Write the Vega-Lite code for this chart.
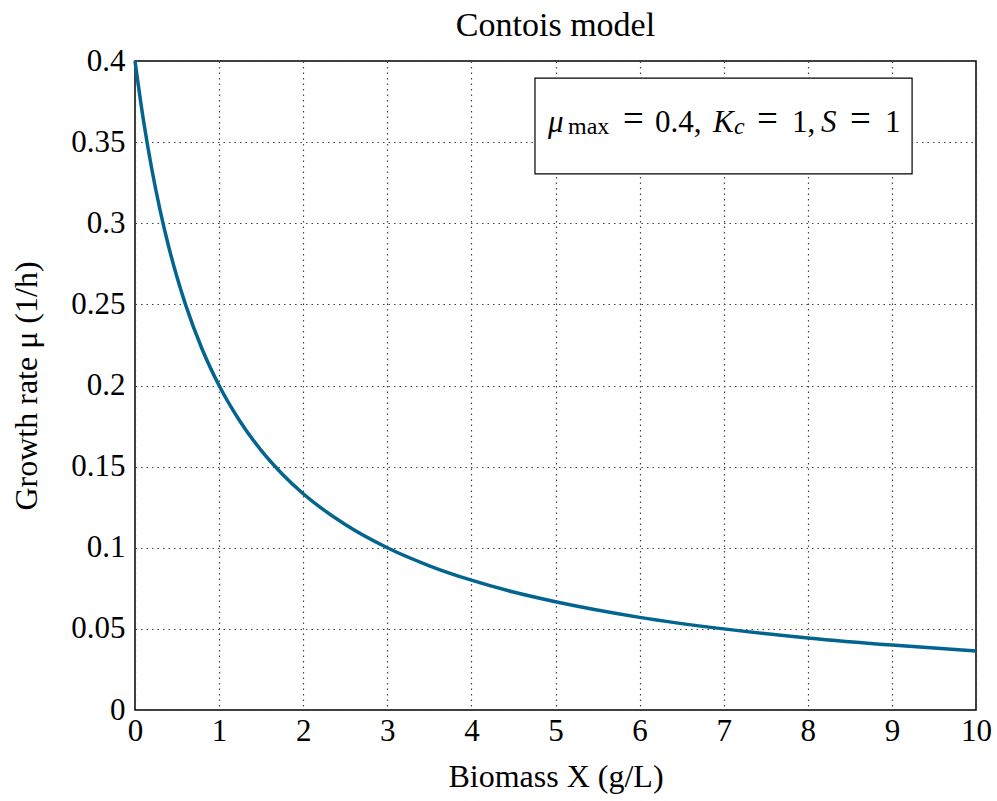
{
  "$schema": "https://vega.github.io/schema/vega-lite/v6.json",
  "autosize": {"type": "none"},
  "width": 841,
  "height": 649,
  "padding": {"left": 135, "top": 61, "right": 21, "bottom": 91},
  "background": "white",
  "title": {"text": "Contois model", "font": "Liberation Serif", "fontSize": 34, "fontWeight": "normal", "color": "black", "offset": 2},
  "config": {
    "view": {"stroke": "black", "strokeWidth": 1.5},
    "axis": {
      "labelFont": "Liberation Serif", "labelFontSize": 31, "labelColor": "black",
      "titleFont": "Liberation Serif", "titleFontSize": 32, "titleFontWeight": "normal", "titleColor": "black",
      "domain": false, "ticks": false, "labelFlush": false, "labelOverlap": false,
      "gridColor": "#444", "gridDash": [1.5, 4], "gridWidth": 1.2
    }
  },
  "layer": [
    {
      "data": {"values": [
        {"X": 0, "mu": 0.4}, {"X": 0.1, "mu": 0.3636}, {"X": 0.2, "mu": 0.3333}, {"X": 0.3, "mu": 0.3077},
        {"X": 0.4, "mu": 0.2857}, {"X": 0.5, "mu": 0.2667}, {"X": 0.6, "mu": 0.25}, {"X": 0.8, "mu": 0.2222},
        {"X": 1, "mu": 0.2}, {"X": 1.25, "mu": 0.1778}, {"X": 1.5, "mu": 0.16}, {"X": 1.75, "mu": 0.1455},
        {"X": 2, "mu": 0.1333}, {"X": 2.5, "mu": 0.1143}, {"X": 3, "mu": 0.1}, {"X": 3.5, "mu": 0.0889},
        {"X": 4, "mu": 0.08}, {"X": 4.5, "mu": 0.0727}, {"X": 5, "mu": 0.0667}, {"X": 6, "mu": 0.0571},
        {"X": 7, "mu": 0.05}, {"X": 8, "mu": 0.0444}, {"X": 9, "mu": 0.04}, {"X": 10, "mu": 0.0364}
      ]},
      "mark": {"type": "line", "color": "#03658f", "strokeWidth": 3.5, "interpolate": "monotone"},
      "encoding": {
        "x": {"field": "X", "type": "quantitative", "scale": {"domain": [0, 10], "nice": false},
          "axis": {"values": [0,1,2,3,4,5,6,7,8,9,10], "format": "~g", "title": "Biomass X (g/L)", "labelPadding": 6, "titlePadding": 15}},
        "y": {"field": "mu", "type": "quantitative", "scale": {"domain": [0, 0.4], "nice": false},
          "axis": {"values": [0,0.05,0.1,0.15,0.2,0.25,0.3,0.35,0.4], "format": "~g", "title": "Growth rate μ (1/h)", "labelPadding": 10, "titlePadding": 27}}
      }
    },
    {
      "data": {"values": [{"x1": 4.756, "x2": 9.24, "y1": 0.3304, "y2": 0.3895}]},
      "mark": {"type": "rect", "fill": "white", "stroke": "black", "strokeWidth": 1.2},
      "encoding": {
        "x": {"field": "x1", "type": "quantitative"}, "x2": {"field": "x2"},
        "y": {"field": "y1", "type": "quantitative"}, "y2": {"field": "y2"}
      }
    },
    {
      "data": {"values": [
        {"x": 6.183, "y": 0.35624, "t": "0.4,"},
        {"x": 7.812, "y": 0.35624, "t": "1,"},
        {"x": 8.918, "y": 0.35624, "t": "1"}
      ]},
      "mark": {"type": "text", "font": "Liberation Serif", "fontSize": 31, "align": "left", "baseline": "alphabetic", "color": "black"},
      "encoding": {"x": {"field": "x", "type": "quantitative"}, "y": {"field": "y", "type": "quantitative"}, "text": {"field": "t"}}
    },
    {
      "data": {"values": [
        {"x": 5.803, "y": 0.35624, "t": "="},
        {"x": 7.396, "y": 0.35624, "t": "="},
        {"x": 8.502, "y": 0.35624, "t": "="}
      ]},
      "mark": {"type": "text", "font": "Liberation Serif", "fontSize": 37, "align": "left", "baseline": "alphabetic", "dy": -1, "color": "black"},
      "encoding": {"x": {"field": "x", "type": "quantitative"}, "y": {"field": "y", "type": "quantitative"}, "text": {"field": "t"}}
    },
    {
      "data": {"values": [
        {"x": 4.911, "y": 0.35624, "t": "μ"},
        {"x": 6.873, "y": 0.35624, "t": "K"},
        {"x": 8.157, "y": 0.35624, "t": "S"}
      ]},
      "mark": {"type": "text", "font": "Liberation Serif", "fontSize": 31, "fontStyle": "italic", "align": "left", "baseline": "alphabetic", "color": "black"},
      "encoding": {"x": {"field": "x", "type": "quantitative"}, "y": {"field": "y", "type": "quantitative"}, "text": {"field": "t"}}
    },
    {
      "data": {"values": [{"x": 5.149, "y": 0.3547, "t": "max"}]},
      "mark": {"type": "text", "font": "Liberation Serif", "fontSize": 24, "align": "left", "baseline": "alphabetic", "color": "black"},
      "encoding": {"x": {"field": "x", "type": "quantitative"}, "y": {"field": "y", "type": "quantitative"}, "text": {"field": "t"}}
    },
    {
      "data": {"values": [{"x": 7.122, "y": 0.3547, "t": "c"}]},
      "mark": {"type": "text", "font": "Liberation Serif", "fontSize": 24, "fontStyle": "italic", "align": "left", "baseline": "alphabetic", "color": "black"},
      "encoding": {"x": {"field": "x", "type": "quantitative"}, "y": {"field": "y", "type": "quantitative"}, "text": {"field": "t"}}
    }
  ]
}
